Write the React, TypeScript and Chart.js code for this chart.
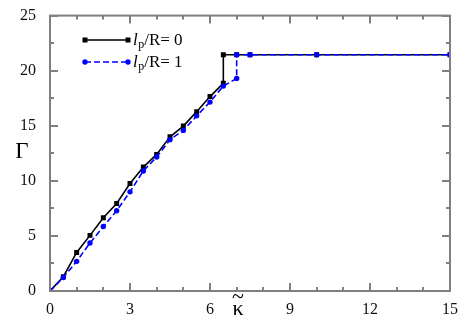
import React, { useEffect, useRef } from "react";
import { Chart, registerables } from "chart.js";

Chart.register(...registerables);

const kappaA = [0, 0.5, 1, 1.5, 2, 2.5, 3, 3.5, 4, 4.5, 5, 5.5, 6, 6.5, 6.5, 7, 7.5, 10, 15];
const gammaA = [0, 1.3, 3.5, 5.05, 6.65, 7.95, 9.75, 11.25, 12.4, 14.0, 14.97, 16.28, 17.65, 18.85, 21.44, 21.44, 21.44, 21.44, 21.44];
const kappaB = [0, 0.5, 1, 1.5, 2, 2.5, 3, 3.5, 4, 4.5, 5, 5.5, 6, 6.5, 7, 7, 7.5, 10, 15];
const gammaB = [0, 1.23, 2.69, 4.36, 5.85, 7.29, 9.0, 10.9, 12.16, 13.74, 14.58, 15.9, 17.15, 18.6, 19.3, 21.44, 21.44, 21.44, 21.44];
const seriesLabels = ["0", "1"];
const xTitle = "κ";
const yTitle = "Γ";

const SERIF = "'Liberation Serif', 'Times New Roman', serif";
const FRAME = "#808080";

Chart.defaults.font.family = SERIF;

const decorPlugin = {
  id: "decor",
  afterDatasetsDraw(chart: any) {
    const { ctx, chartArea, scales } = chart;
    const { left, right, top, bottom } = chartArea;
    const xs = scales.x;
    const ys = scales.y;
    ctx.save();
    ctx.strokeStyle = FRAME;
    ctx.lineWidth = 2;
    const tick = (x1: number, y1: number, x2: number, y2: number) => {
      ctx.beginPath();
      ctx.moveTo(x1, y1);
      ctx.lineTo(x2, y2);
      ctx.stroke();
    };
    for (let v = 0; v <= 15; v += 1) {
      const px = Math.round(xs.getPixelForValue(v));
      const len = v % 3 === 0 ? 8 : 4;
      tick(px, bottom, px, bottom - len);
      tick(px, top, px, top + len);
    }
    for (let v = 0; v <= 25; v += 2.5) {
      const py = Math.round(ys.getPixelForValue(v));
      const len = v % 5 === 0 ? 8 : 4;
      tick(left, py, left + len, py);
      tick(right, py, right - len, py);
    }
    ctx.strokeRect(left, top, right - left, bottom - top);

    // axis titles
    ctx.fillStyle = "#000";
    ctx.textAlign = "center";
    ctx.textBaseline = "alphabetic";
    ctx.font = `23px ${SERIF}`;
    ctx.fillText(yTitle, 22, 158);
    ctx.font = `22px ${SERIF}`;
    ctx.fillText(xTitle, 238, 315);
    ctx.font = `22px ${SERIF}`;
    ctx.fillText("~", 238, 303);

    // legend
    const drawEntry = (y: number, color: string, dash: number[], marker: string, val: string) => {
      ctx.strokeStyle = color;
      ctx.fillStyle = color;
      ctx.lineWidth = 1.6;
      ctx.setLineDash(dash);
      ctx.beginPath();
      ctx.moveTo(85, y);
      ctx.lineTo(128, y);
      ctx.stroke();
      ctx.setLineDash([]);
      for (const mx of [85, 128]) {
        if (marker === "rect") ctx.fillRect(mx - 2.5, y - 2.5, 5, 5);
        else {
          ctx.beginPath();
          ctx.arc(mx, y, 2.7, 0, Math.PI * 2);
          ctx.fill();
        }
      }
      ctx.fillStyle = "#000";
      ctx.textAlign = "left";
      let tx = 133;
      const base = y + 5;
      ctx.font = `italic 17px ${SERIF}`;
      ctx.fillText("l", tx, base);
      tx += ctx.measureText("l").width + 0.5;
      ctx.font = `12px ${SERIF}`;
      ctx.fillText("p", tx, base + 3);
      tx += ctx.measureText("p").width;
      ctx.font = `17px ${SERIF}`;
      ctx.fillText("/R= " + val, tx, base);
    };
    drawEntry(40, "#000000", [], "rect", seriesLabels[0]);
    drawEntry(62, "#0000ff", [6, 3], "circle", seriesLabels[1]);
    ctx.restore();
  },
};

export default function App() {
  const ref = useRef<HTMLCanvasElement>(null);
  useEffect(() => {
    if (!ref.current) return;
    const radA = kappaA.map((k) => (k === 0 ? 0 : 3.5));
    const radB = kappaB.map((k) => (k === 0 ? 0 : 2.7));
    const chart = new Chart(ref.current, {
      type: "line",
      data: {
        datasets: [
          {
            label: "lp/R= " + seriesLabels[0],
            data: kappaA.map((x, i) => ({ x, y: gammaA[i] })),
            borderColor: "#000000",
            backgroundColor: "#000000",
            borderWidth: 1.6,
            pointStyle: "rect",
            pointRadius: radA,
            pointBorderWidth: 0,
            order: 1,
          },
          {
            label: "lp/R= " + seriesLabels[1],
            data: kappaB.map((x, i) => ({ x, y: gammaB[i] })),
            borderColor: "#0000ff",
            backgroundColor: "#0000ff",
            borderWidth: 1.6,
            borderDash: [6, 3],
            pointStyle: "circle",
            pointRadius: radB,
            pointBorderWidth: 0,
            order: 0,
          },
        ],
      },
      options: {
        animation: false,
        responsive: false,
        maintainAspectRatio: false,
        devicePixelRatio: 1,
        layout: { padding: { top: 12, right: 13, left: 0, bottom: 0 } },
        plugins: { legend: { display: false }, tooltip: { enabled: false } },
        scales: {
          x: {
            type: "linear",
            min: 0,
            max: 15,
            grid: { display: false },
            border: { display: false },
            ticks: {
              stepSize: 3,
              padding: 1,
              color: "#111",
              font: { family: SERIF, size: 16 },
              maxRotation: 0,
            },
            afterFit: (s: any) => {
              s.height = 39;
            },
          },
          y: {
            type: "linear",
            min: 0,
            max: 25,
            grid: { display: false },
            border: { display: false },
            ticks: {
              stepSize: 5,
              padding: 6,
              color: "#111",
              font: { family: SERIF, size: 16 },
            },
            afterFit: (s: any) => {
              s.width = 50;
            },
          },
        },
      },
      plugins: [decorPlugin],
    });
    return () => chart.destroy();
  }, []);
  return (
    <div style={{ position: "fixed", left: 0, top: 0, width: 463, height: 330, background: "#fff" }}>
      <canvas ref={ref} width={463} height={330} />
    </div>
  );
}
